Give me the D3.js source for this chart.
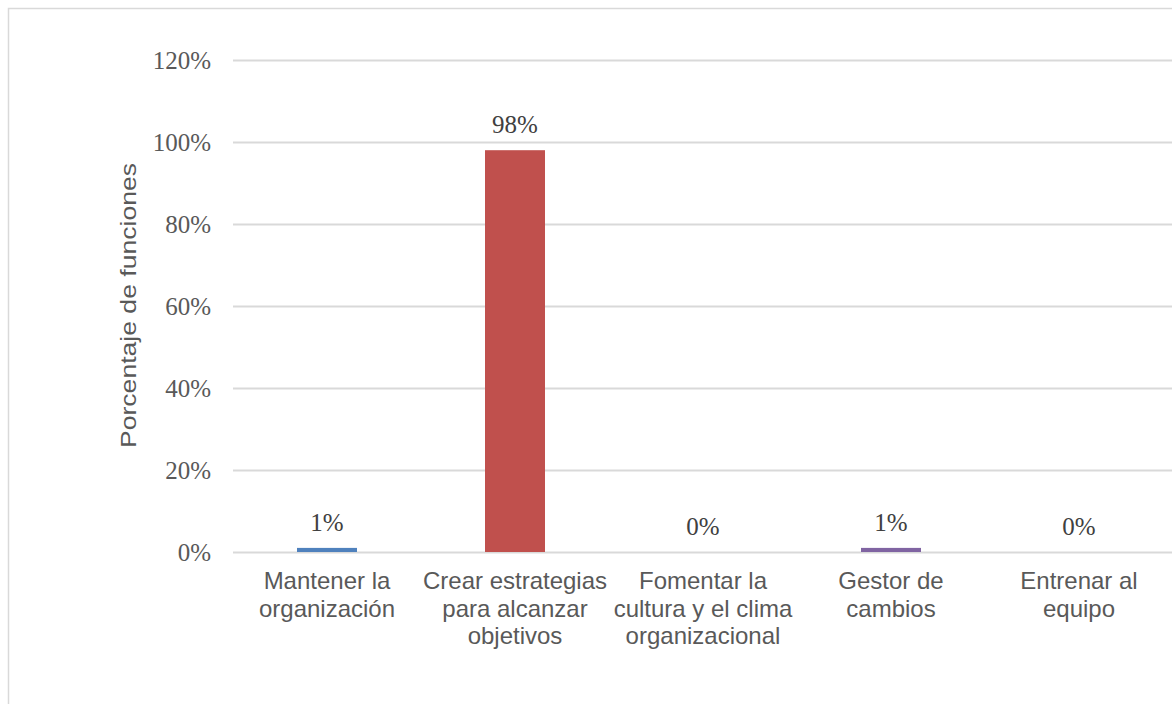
<!DOCTYPE html>
<html><head><meta charset="utf-8">
<script src="https://cdn.jsdelivr.net/npm/d3@7"></script>
<style>body{margin:0;background:#fff}svg{display:block}</style>
</head><body>
<svg id="c" width="1172" height="704"></svg>
<script>
const categories = [["Mantener la","organización"],["Crear estrategias","para alcanzar","objetivos"],["Fomentar la","cultura y el clima","organizacional"],["Gestor de","cambios"],["Entrenar al","equipo"]];
const values = [0.01, 0.98, 0.00, 0.01, 0.00];
const labels = ["1%","98%","0%","1%","0%"];
const colors = ["#4F81BD","#C0504D","#9BBB59","#8064A2","#4BACC6"];
const yTicks = [0,0.2,0.4,0.6,0.8,1.0,1.2];

const svg = d3.select("#c");
svg.append("rect").attr("x",8.5).attr("y",8.5).attr("width",1200).attr("height",800)
  .attr("fill","#fff").attr("stroke","#d9d9d9").attr("stroke-width",1.5);

const x = d3.scaleBand().domain(d3.range(5)).range([233,1173]).paddingInner(0.68).paddingOuter(0.34);
const y = d3.scaleLinear().domain([0,1.2]).range([552,60]);

const ya = svg.append("g").attr("transform","translate(233,0)")
  .call(d3.axisLeft(y).tickValues(yTicks).tickFormat(d3.format(".0%")).tickSize(-940).tickPadding(22));
ya.select(".domain").remove();
ya.selectAll(".tick line").attr("stroke","#d9d9d9").attr("stroke-width",2);
ya.selectAll(".tick text").attr("fill","#595959").style("font-family","'Liberation Serif','DejaVu Serif',serif").style("font-size","25px");

const bw = 60;
svg.selectAll("rect.bar").data(values).enter().append("rect").attr("class","bar")
  .attr("x",(d,i)=>x(i)+x.bandwidth()/2-bw/2).attr("width",bw)
  .attr("y",d=>y(d)).attr("height",d=>y(0)-y(d)).attr("fill",(d,i)=>colors[i]);

svg.selectAll("text.dl").data(values).enter().append("text").attr("class","dl")
  .attr("x",(d,i)=>x(i)+x.bandwidth()/2).attr("y",d=>y(d)-17)
  .attr("text-anchor","middle").attr("fill","#404040")
  .style("font-family","'Liberation Serif','DejaVu Serif',serif").style("font-size","25px")
  .text((d,i)=>labels[i]);

const cl = svg.selectAll("text.cl").data(categories).enter().append("text").attr("class","cl")
  .attr("x",(d,i)=>x(i)+x.bandwidth()/2).attr("y",589)
  .attr("text-anchor","middle").attr("fill","#595959")
  .style("font-family","'Liberation Sans',Arial,sans-serif").style("font-size","24px");
cl.each(function(d,i){
  const t=d3.select(this);
  d.forEach((s,j)=>t.append("tspan").attr("x",x(i)+x.bandwidth()/2).attr("dy",j?27.5:0).text(s));
});

svg.append("text").attr("transform","translate(136,305.5) rotate(-90)").attr("text-anchor","middle")
  .attr("fill","#595959").style("font-family","'Liberation Sans',Arial,sans-serif").style("font-size","22px")
  .attr("textLength",285).attr("lengthAdjust","spacingAndGlyphs")
  .text("Porcentaje de funciones");
</script>
</body></html>
